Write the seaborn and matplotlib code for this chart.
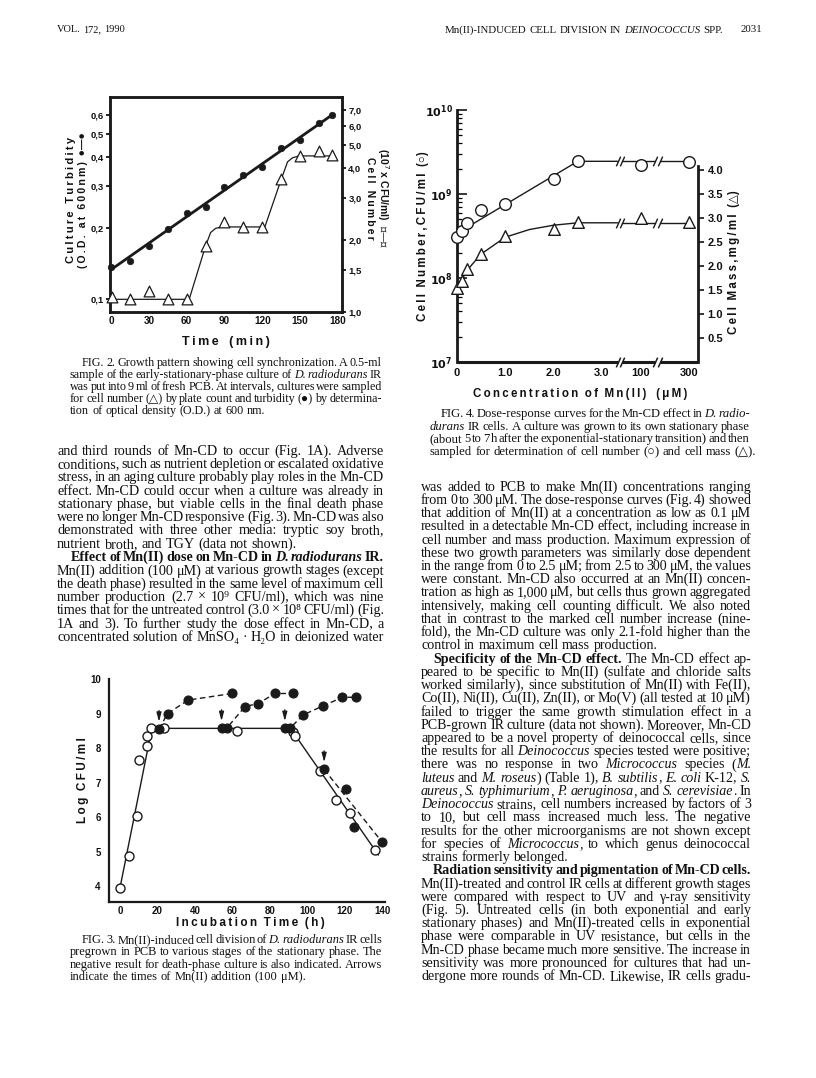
import numpy as np
import pandas as pd
import matplotlib
matplotlib.use("Agg")
import matplotlib.pyplot as plt
from matplotlib.ticker import NullLocator, LogLocator
import seaborn as sns

# ---------------- Fig. 2 data ----------------
fig2_time = [0, 15, 30, 45, 60, 75, 90, 105, 120, 135, 150, 165, 175]
fig2_turbidity = [0.137, 0.145, 0.168, 0.198, 0.232, 0.245, 0.297, 0.335, 0.362, 0.434, 0.470, 0.556, 0.598]
fig2_count_time = [1, 15, 30, 45, 60, 75, 90, 105, 120, 135, 150, 165, 175]
fig2_count = [1.15, 1.13, 1.23, 1.13, 1.13, 1.89, 2.39, 2.27, 2.27, 3.59, 4.51, 4.73, 4.54]
fig2_count_curve_time = [0, 62, 75, 79, 83, 88, 122, 135, 140, 144, 149, 177]
fig2_count_curve = [1.13, 1.13, 1.89, 2.15, 2.24, 2.27, 2.27, 3.59, 4.25, 4.42, 4.50, 4.50]
fig2_od_ticks = [0.1, 0.2, 0.3, 0.4, 0.5, 0.6]
fig2_od_labels = ["0,1", "0,2", "0,3", "0,4", "0,5", "0,6"]
fig2_count_ticks = [1.0, 1.5, 2.0, 3.0, 4.0, 5.0, 6.0, 7.0]
fig2_count_labels = ["1,0", "1,5", "2,0", "3,0", "4,0", "5,0", "6,0", "7,0"]
fig2_time_ticks = [0, 30, 60, 90, 120, 150, 180]

# ---------------- Fig. 3 data ----------------
fig3_ctrl_time = [0, 4.8, 8.9, 10.3, 14.2, 14.2, 16.5, 23.5, 62.2, 92.4, 93.5, 106.7, 115.2, 122.7, 136.4]
fig3_ctrl_log = [3.96, 4.86, 6.03, 7.65, 8.06, 8.35, 8.59, 8.57, 8.50, 8.47, 8.36, 7.34, 6.49, 6.12, 5.06]
fig3_ctrl_curve_time = [0, 17, 91, 138]
fig3_ctrl_curve_log = [3.96, 8.57, 8.57, 4.90]
fig3_mn1_time = [20.8, 25.4, 36.4, 59.9]
fig3_mn1_log = [8.55, 9.00, 9.39, 9.58]
fig3_mn2_time = [54.2, 56.9, 66.7, 73.8, 82.7, 92.1]
fig3_mn2_log = [8.57, 8.57, 9.20, 9.29, 9.58, 9.58]
fig3_mn3_time = [88.0, 90.7, 97.8, 108.4, 118.8, 125.9]
fig3_mn3_log = [8.57, 8.57, 8.96, 9.22, 9.47, 9.47]
fig3_mn4_time = [109.0, 120.9, 125.0, 139.9]
fig3_mn4_log = [7.38, 6.81, 5.70, 5.28]
fig3_y_ticks = [4, 5, 6, 7, 8, 9, 10]
fig3_x_ticks = [0, 20, 40, 60, 80, 100, 120, 140]

# ---------------- Fig. 4 data ----------------
fig4_conc = [0, 0.1, 0.2, 0.5, 1.0, 2.0, 2.5, 100, 300]
fig4_cfu = [3.05e8, 3.67e8, 4.49e8, 6.37e8, 7.66e8, 1.49e9, 2.45e9, 2.20e9, 2.40e9]
fig4_mass = [1.54, 1.69, 1.93, 2.26, 2.63, 2.77, 2.91, 2.99, 2.92]
fig4_cfu_curve_conc = [0, 2.5, 300]
fig4_cfu_curve = [3.4e8, 2.45e9, 2.45e9]
fig4_mass_curve_conc = [0, 0.1, 0.2, 0.5, 1.0, 1.5, 2.0, 2.5, 300]
fig4_mass_curve = [1.56, 1.71, 1.90, 2.25, 2.60, 2.76, 2.85, 2.90, 2.90]
fig4_x_tick_conc = [0, 1.0, 2.0, 3.0, 100, 300]
fig4_x_tick_labels = ["0", "1.0", "2.0", "3.0", "100", "300"]
fig4_cfu_ticks = [1e7, 1e8, 1e9, 1e10]
fig4_cfu_labels = [r"$\mathbf{10^{7}}$", r"$\mathbf{10^{8}}$", r"$\mathbf{10^{9}}$", r"$\mathbf{10^{10}}$"]
fig4_mass_ticks = [0.5, 1.0, 1.5, 2.0, 2.5, 3.0, 3.5, 4.0]
fig4_mass_labels = ["0.5", "1.0", "1.5", "2.0", "2.5", "3.0", "3.5", "4.0"]

# ---------------- page text ----------------
header_left = "VOL. 172, 1990"
header_right = "Mn(II)-INDUCED CELL DIVISION IN ~DEINOCOCCUS~ SPP."
header_page = "2031"

fig2_caption = [
    "FIG. 2. Growth pattern showing cell synchronization. A 0.5-ml",
    "sample of the early-stationary-phase culture of ~D. radiodurans~ IR",
    "was put into 9 ml of fresh PCB. At intervals, cultures were sampled",
    "for cell number (△) by plate count and turbidity (●) by determina-",
    "tion of optical density (O.D.) at 600 nm.",
]
fig3_caption = [
    "FIG. 3. Mn(II)-induced cell division of ~D. radiodurans~ IR cells",
    "pregrown in PCB to various stages of the stationary phase. The",
    "negative result for death-phase culture is also indicated. Arrows",
    "indicate the times of Mn(II) addition (100 μM).",
]
fig4_caption = [
    "FIG. 4. Dose-response curves for the Mn-CD effect in ~D. radio-~",
    "~durans~ IR cells. A culture was grown to its own stationary phase",
    "(about 5 to 7 h after the exponential-stationary transition) and then",
    "sampled for determination of cell number (○) and cell mass (△).",
]
left_body = [
    "and third rounds of Mn-CD to occur (Fig. 1A). Adverse",
    "conditions, such as nutrient depletion or escalated oxidative",
    "stress, in an aging culture probably play roles in the Mn-CD",
    "effect. Mn-CD could occur when a culture was already in",
    "stationary phase, but viable cells in the final death phase",
    "were no longer Mn-CD responsive (Fig. 3). Mn-CD was also",
    "demonstrated with three other media: tryptic soy broth,",
    "nutrient broth, and TGY (data not shown).",
    "¶*Effect of Mn(II) dose on Mn-CD in ~D. radiodurans~ IR.*",
    "Mn(II) addition (100 μM) at various growth stages (except",
    "the death phase) resulted in the same level of maximum cell",
    "number production (2.7 × 10⁹ CFU/ml), which was nine",
    "times that for the untreated control (3.0 × 10⁸ CFU/ml) (Fig.",
    "1A and 3). To further study the dose effect in Mn-CD, a",
    "concentrated solution of MnSO₄ · H₂O in deionized water",
]
right_body = [
    "was added to PCB to make Mn(II) concentrations ranging",
    "from 0 to 300 μM. The dose-response curves (Fig. 4) showed",
    "that addition of Mn(II) at a concentration as low as 0.1 μM",
    "resulted in a detectable Mn-CD effect, including increase in",
    "cell number and mass production. Maximum expression of",
    "these two growth parameters was similarly dose dependent",
    "in the range from 0 to 2.5 μM; from 2.5 to 300 μM, the values",
    "were constant. Mn-CD also occurred at an Mn(II) concen-",
    "tration as high as 1,000 μM, but cells thus grown aggregated",
    "intensively, making cell counting difficult. We also noted",
    "that in contrast to the marked cell number increase (nine-",
    "fold), the Mn-CD culture was only 2.1-fold higher than the",
    "control in maximum cell mass production.",
    "¶*Specificity of the Mn-CD effect.* The Mn-CD effect ap-",
    "peared to be specific to Mn(II) (sulfate and chloride salts",
    "worked similarly), since substitution of Mn(II) with Fe(II),",
    "Co(II), Ni(II), Cu(II), Zn(II), or Mo(V) (all tested at 10 μM)",
    "failed to trigger the same growth stimulation effect in a",
    "PCB-grown IR culture (data not shown). Moreover, Mn-CD",
    "appeared to be a novel property of deinococcal cells, since",
    "the results for all ~Deinococcus~ species tested were positive;",
    "there was no response in two ~Micrococcus~ species (~M.~",
    "~luteus~ and ~M. roseus~) (Table 1), ~B. subtilis~, ~E. coli~ K-12, ~S.~",
    "~aureus~, ~S. typhimurium~, ~P. aeruginosa~, and ~S. cerevisiae~. In",
    "~Deinococcus~ strains, cell numbers increased by factors of 3",
    "to 10, but cell mass increased much less. The negative",
    "results for the other microorganisms are not shown except",
    "for species of ~Micrococcus~, to which genus deinococcal",
    "strains formerly belonged.",
    "¶*Radiation sensitivity and pigmentation of Mn-CD cells.*",
    "Mn(II)-treated and control IR cells at different growth stages",
    "were compared with respect to UV and γ-ray sensitivity",
    "(Fig. 5). Untreated cells (in both exponential and early",
    "stationary phases) and Mn(II)-treated cells in exponential",
    "phase were comparable in UV resistance, but cells in the",
    "Mn-CD phase became much more sensitive. The increase in",
    "sensitivity was more pronounced for cultures that had un-",
    "dergone more rounds of Mn-CD. Likewise, IR cells gradu-",
]

# ---------------- setup ----------------
sns.set_theme(style="white")
SANS = ["Liberation Sans", "DejaVu Sans"]
SERIF = ["Liberation Serif", "DejaVu Serif", "DejaVu Sans"]
plt.rcParams["font.family"] = SANS
plt.rcParams["mathtext.fontset"] = "dejavusans"
plt.rcParams["axes.edgecolor"] = "black"
plt.rcParams["xtick.color"] = "black"
plt.rcParams["ytick.color"] = "black"
INK = "#111111"

W, H = 816, 1078
fig = plt.figure(figsize=(W / 100, H / 100), dpi=100)
fig.patch.set_facecolor("white")
renderer = fig.canvas.get_renderer()


def fx(x):
    return x / W


def fy(y):
    return 1 - y / H


def px_axes(l, t, r, b):
    ax = fig.add_axes([l / W, 1 - b / H, (r - l) / W, (b - t) / H])
    ax.set_facecolor("none")
    return ax


def spaced(s):
    return "\u2009".join(s)


def parse_line(line):
    bold = italic = False
    words = []
    for tok in line.split(" "):
        segs, cur = [], ""
        for ch in tok:
            if ch in "*~":
                if cur:
                    segs.append((cur, bold, italic))
                    cur = ""
                if ch == "*":
                    bold = not bold
                else:
                    italic = not italic
            else:
                cur += ch
        if cur:
            segs.append((cur, bold, italic))
        if segs:
            words.append(segs)
    return words


def seg_text(s, b, i, size):
    return fig.text(0, 0, s, fontsize=size, family=SERIF,
                    fontweight="bold" if b else "normal",
                    fontstyle="italic" if i else "normal",
                    ha="left", va="baseline", color=INK)


def wid(t):
    return t.get_window_extent(renderer).width


def text_block(lines, x0, x1, y0, dy, para_indent=0, first_indent=0,
               ragged_last=True, nominal=9.0, fixed=None, min_space=0.5):
    entries = []
    for k, raw in enumerate(lines):
        indent = 0
        if raw.startswith("¶"):
            raw = raw[1:]
            indent = para_indent
        if k == 0 and first_indent:
            indent = first_indent
        nxt = lines[k + 1] if k + 1 < len(lines) else None
        ragged = (nxt is None and ragged_last) or (nxt is not None and nxt.startswith("¶"))
        objs = [[seg_text(s, b, i, nominal) for s, b, i in w] for w in parse_line(raw)]
        entries.append([indent, ragged, objs])
    if fixed is not None:
        size = fixed
    else:
        sp_nom = 0.25 * nominal * 100 / 72
        scale = np.inf
        for indent, ragged, objs in entries:
            if ragged:
                continue
            wsum = sum(wid(t) for w in objs for t in w)
            need = wsum + min_space * sp_nom * (len(objs) - 1)
            scale = min(scale, (x1 - x0 - indent) / need)
        size = nominal * scale
    sp = 0.25 * size * 100 / 72
    for k, (indent, ragged, objs) in enumerate(entries):
        for w in objs:
            for t in w:
                t.set_fontsize(size)
        ww = [sum(wid(t) for t in w) for w in objs]
        avail = x1 - x0 - indent
        if ragged or len(objs) < 2:
            gap = sp
        else:
            gap = (avail - sum(ww)) / (len(objs) - 1)
        x = x0 + indent
        yb = y0 + k * dy + 0.33 * size * 100 / 72
        for w, wv in zip(objs, ww):
            xx = x
            for t in w:
                t.set_position((fx(xx), fy(yb)))
                xx += wid(t)
            x += wv + gap
    return size


def style_ticks(ax):
    for lab in ax.get_xticklabels() + ax.get_yticklabels():
        lab.set_fontweight("bold")
        lab.set_color(INK)


# ====================== Fig. 2 ======================
ax2 = px_axes(110, 97, 342, 312)
ax2.set_yscale("log")
d2 = pd.DataFrame({"time": fig2_time, "od": fig2_turbidity})
coef = np.polyfit(d2["time"], np.log10(d2["od"]), 1)
t_fit = np.array([d2["time"].min(), d2["time"].max()])
sns.lineplot(x=t_fit, y=10 ** np.polyval(coef, t_fit), ax=ax2, color="k", lw=2.0, estimator=None)
sns.scatterplot(data=d2, x="time", y="od", ax=ax2, color="k", s=22, edgecolor="k",
                linewidth=0.5, zorder=5, clip_on=False)
ax2.set_xlim(-0.8, 183.2)
ax2.set_ylim(0.088, 0.716)
ax2.set_xticks(fig2_time_ticks, labels=[str(v) for v in fig2_time_ticks])
ax2.set_yticks(fig2_od_ticks, labels=fig2_od_labels)
ax2.yaxis.set_minor_locator(NullLocator())
ax2.set_xlabel("")
ax2.set_ylabel("")
ax2.tick_params(axis="x", direction="in", length=5, width=1.2, labelsize=7.2, pad=3)
ax2.tick_params(axis="y", which="both", direction="out", length=3, width=1.2, labelsize=6.8, pad=1.5)

ax2r = ax2.twinx()
ax2r.set_facecolor("none")
ax2r.set_yscale("log")
d2c = pd.DataFrame({"time": fig2_count_time, "count": fig2_count})
sns.lineplot(x=fig2_count_curve_time, y=fig2_count_curve, ax=ax2r, color="k", lw=0.9,
             estimator=None, sort=False)
sns.scatterplot(data=d2c, x="time", y="count", ax=ax2r, marker="^", s=60, color="white",
                edgecolor="k", linewidth=0.9, zorder=5, clip_on=False)
ax2r.set_ylim(1.0, 7.94)
ax2r.set_yticks(fig2_count_ticks, labels=fig2_count_labels)
ax2r.yaxis.set_minor_locator(NullLocator())
ax2r.set_ylabel("")
ax2r.tick_params(axis="y", which="both", direction="out", length=3, width=1.2, labelsize=6.8, pad=1.5)
for a in (ax2, ax2r):
    for s in a.spines.values():
        s.set_linewidth(1.8)
        s.set_color("k")
    style_ticks(a)

fig.text(fx(71), fy(200), spaced("Culture Turbidity"), rotation=90, ha="center", va="center",
         fontsize=8, fontweight="bold", color=INK)
fig.text(fx(83), fy(200), spaced("(O.D. at 600nm)") + "  ●—●", rotation=90, ha="center", va="center",
         fontsize=7.6, fontweight="bold", color=INK)
fig.text(fx(370), fy(198), spaced("Cell Number"), rotation=270, ha="center", va="center",
         fontsize=7.5, fontweight="bold", color=INK)
fig.text(fx(383), fy(198), "(10$^{7}$ x CFU/ml)  △—△", rotation=270, ha="center", va="center",
         fontsize=7.5, fontweight="bold", color=INK)
fig.text(fx(226), fy(342), spaced("Time") + "   " + spaced("(min)"), ha="center", va="center",
         fontsize=9, fontweight="bold", color=INK)

# ====================== Fig. 3 ======================
ax3 = px_axes(109, 679, 385, 902)
sns.lineplot(x=fig3_ctrl_curve_time, y=fig3_ctrl_curve_log, ax=ax3, color="k", lw=1.0,
             estimator=None, sort=False)
for tt, vv in ((fig3_mn1_time, fig3_mn1_log), (fig3_mn2_time, fig3_mn2_log),
               (fig3_mn3_time, fig3_mn3_log)):
    sns.lineplot(x=tt, y=vv, ax=ax3, color="k", lw=1.0, linestyle=(0, (4, 2.5)),
                 estimator=None, sort=False)
sns.lineplot(x=[fig3_mn4_time[0], fig3_mn4_time[-1]], y=[fig3_mn4_log[0], fig3_mn4_log[-1]],
             ax=ax3, color="k", lw=1.0, linestyle=(0, (4, 2.5)), estimator=None, sort=False)
sns.scatterplot(x=fig3_ctrl_time, y=fig3_ctrl_log, ax=ax3, s=42, color="white", edgecolor="k",
                linewidth=1.0, zorder=5, clip_on=False)
mn_t = fig3_mn1_time + fig3_mn2_time + fig3_mn3_time + fig3_mn4_time
mn_v = fig3_mn1_log + fig3_mn2_log + fig3_mn3_log + fig3_mn4_log
sns.scatterplot(x=mn_t, y=mn_v, ax=ax3, s=42, color="k", edgecolor="k", linewidth=0.8,
                zorder=6, clip_on=False)
for tt, vv in ((fig3_mn1_time, fig3_mn1_log), (fig3_mn2_time, fig3_mn2_log),
               (fig3_mn3_time, fig3_mn3_log), (fig3_mn4_time, fig3_mn4_log)):
    ax3.annotate("", xy=(tt[0], vv[0] + 0.13), xytext=(tt[0], vv[0] + 0.62),
                 arrowprops=dict(arrowstyle="-|>,head_length=0.45,head_width=0.12", lw=0.9, color="k"))
ax3.set_xlim(-5.9, 141.5)
ax3.set_ylim(3.54, 10.0)
ax3.set_xticks(fig3_x_ticks, labels=[str(v) for v in fig3_x_ticks])
ax3.set_yticks(fig3_y_ticks, labels=[str(v) for v in fig3_y_ticks])
ax3.set_xlabel("")
ax3.set_ylabel("")
ax3.spines["top"].set_visible(False)
ax3.spines["right"].set_visible(False)
for s in ("left", "bottom"):
    ax3.spines[s].set_linewidth(1.6)
    ax3.spines[s].set_color("k")
ax3.tick_params(axis="x", direction="in", length=5, width=1.2, labelsize=7, pad=3)
ax3.tick_params(axis="y", direction="out", length=4, width=1.2, labelsize=7, pad=2)
style_ticks(ax3)
fig.text(fx(83), fy(780), spaced("Log") + "  " + spaced("CFU/ml"), rotation=90, ha="center",
         va="center", fontsize=8.5, fontweight="bold", color=INK)
fig.text(fx(250), fy(923), spaced("Incubation") + "  " + spaced("Time") + "  " + spaced("(h)"),
         ha="center", va="center", fontsize=8.5, fontweight="bold", color=INK)

# ====================== Fig. 4 ======================
BREAK_POS = {100: 3.8, 300: 4.8}     # broken-axis placement of the high concentrations
BREAKS = [3.375, 4.145]
HALF_GAP = 0.05


def conc_pos(values):
    return np.array([BREAK_POS.get(v, v) for v in values], dtype=float)


def split_breaks(xs, ys):
    xs = np.asarray(xs, float)
    ys = np.asarray(ys, float)
    bounds = [-np.inf]
    for b in BREAKS:
        bounds += [b - HALF_GAP, b + HALF_GAP]
    bounds += [np.inf]
    pieces = []
    for lo, hi in zip(bounds[0::2], bounds[1::2]):
        inside = (xs > lo) & (xs < hi)
        px = list(xs[inside])
        py = list(ys[inside])
        if np.isfinite(lo) and lo > xs.min() and lo < xs.max():
            px.insert(0, lo)
            py.insert(0, np.interp(lo, xs, ys))
        if np.isfinite(hi) and hi > xs.min() and hi < xs.max():
            px.append(hi)
            py.append(np.interp(hi, xs, ys))
        if len(px) > 1:
            pieces.append((px, py))
    return pieces


SLASH = [(-0.45, -1.0), (0.45, 1.0)]

ax4 = px_axes(457, 110, 698, 362)
ax4.set_yscale("log")
for px_, py_ in split_breaks(conc_pos(fig4_cfu_curve_conc), fig4_cfu_curve):
    sns.lineplot(x=px_, y=py_, ax=ax4, color="k", lw=1.0, estimator=None, sort=False)
sns.scatterplot(x=conc_pos(fig4_conc), y=fig4_cfu, ax=ax4, s=70, color="white", edgecolor="k",
                linewidth=1.0, zorder=5, clip_on=False)
ax4.set_xlim(0, 4.99)
ax4.set_ylim(1e7, 1e10)
ax4.set_yticks(fig4_cfu_ticks, labels=fig4_cfu_labels)
ax4.yaxis.set_minor_locator(LogLocator(base=10, subs=np.arange(2, 10)))
ax4.set_xticks(conc_pos(fig4_x_tick_conc), labels=fig4_x_tick_labels)
ax4.set_xlabel("")
ax4.set_ylabel("")
ax4.spines["top"].set_visible(False)
ax4.spines["right"].set_visible(False)
ax4.spines["bottom"].set_visible(False)
ax4.spines["left"].set_linewidth(2.0)
ax4.spines["left"].set_color("k")
ax4.tick_params(axis="y", which="major", direction="in", length=7, width=1.1, labelsize=8, pad=3)
ax4.tick_params(axis="y", which="minor", direction="in", length=3.5, width=0.9)
ax4.tick_params(axis="x", direction="in", length=4, width=1.1, labelsize=8, pad=4)
style_ticks(ax4)
xaxis_tr = ax4.get_xaxis_transform()
axis_line_x = [0.0, 4.99]
for px_, py_ in split_breaks(axis_line_x, [0, 0]):
    ax4.plot(px_, py_, color="k", lw=2.2, transform=xaxis_tr, clip_on=False,
             solid_capstyle="butt")
for b in BREAKS:
    ax4.plot([b - HALF_GAP, b + HALF_GAP], [0, 0], linestyle="none", marker=SLASH, ms=7,
             mew=1.1, color="k", transform=xaxis_tr, clip_on=False)
    ax4.plot([b - HALF_GAP, b + HALF_GAP], [fig4_cfu_curve[-1]] * 2, linestyle="none",
             marker=SLASH, ms=7, mew=1.0, color="k", clip_on=False)

ax4r = ax4.twinx()
ax4r.set_facecolor("none")
for px_, py_ in split_breaks(conc_pos(fig4_mass_curve_conc), fig4_mass_curve):
    sns.lineplot(x=px_, y=py_, ax=ax4r, color="k", lw=1.0, estimator=None, sort=False)
for b in BREAKS:
    ax4r.plot([b - HALF_GAP, b + HALF_GAP], [fig4_mass_curve[-1]] * 2, linestyle="none",
              marker=SLASH, ms=7, mew=1.0, color="k", clip_on=False)
sns.scatterplot(x=conc_pos(fig4_conc), y=fig4_mass, ax=ax4r, marker="^", s=70, color="white",
                edgecolor="k", linewidth=1.0, zorder=5, clip_on=False)
ax4r.set_ylim(0, 5.25)
ax4r.set_yticks(fig4_mass_ticks, labels=fig4_mass_labels)
ax4r.set_ylabel("")
for s in ("top", "left", "bottom"):
    ax4r.spines[s].set_visible(False)
ax4r.spines["right"].set_bounds(0, 4.08)
ax4r.spines["right"].set_linewidth(2.0)
ax4r.spines["right"].set_color("k")
ax4r.tick_params(axis="y", direction="out", length=4, width=1.1, labelsize=8, pad=3)
style_ticks(ax4r)

fig.text(fx(423), fy(236), spaced("Cell") + "  " + spaced("Number,CFU/ml") + "  (○)", rotation=90,
         ha="center", va="center", fontsize=8.3, fontweight="bold", color=INK)
fig.text(fx(734), fy(262), spaced("Cell") + "  " + spaced("Mass,mg/ml") + "  (△)", rotation=90,
         ha="center", va="center", fontsize=8.3, fontweight="bold", color=INK)
fig.text(fx(580), fy(394), spaced("Concentration") + "  " + spaced("of") + "  " + spaced("Mn(II)")
         + "   " + spaced("(μM)"), ha="center", va="center", fontsize=8.3, fontweight="bold", color=INK)

# ====================== page text ======================
text_block([header_left], 57, 300, 29, 12, fixed=7.5)
text_block([header_right], 445, 740, 29, 12, fixed=7.8)
fig.text(fx(762), fy(29 + 3.5), header_page, ha="right", va="baseline", fontsize=7.8,
         family=SERIF, fontweight="normal", color=INK)

text_block(fig2_caption, 70, 382, 362, 12.1, first_indent=12, nominal=8)
text_block(left_body, 57, 384, 450, 13.3, para_indent=14, ragged_last=False, nominal=9)
text_block(fig3_caption, 70, 382, 939, 12.3, first_indent=12, nominal=8)
text_block(fig4_caption, 430, 750, 413, 12.6, first_indent=11, nominal=8)
text_block(right_body, 421, 751, 486, 13.23, para_indent=12, ragged_last=False, nominal=9)

fig.savefig("out.png", dpi=100, facecolor="white")
